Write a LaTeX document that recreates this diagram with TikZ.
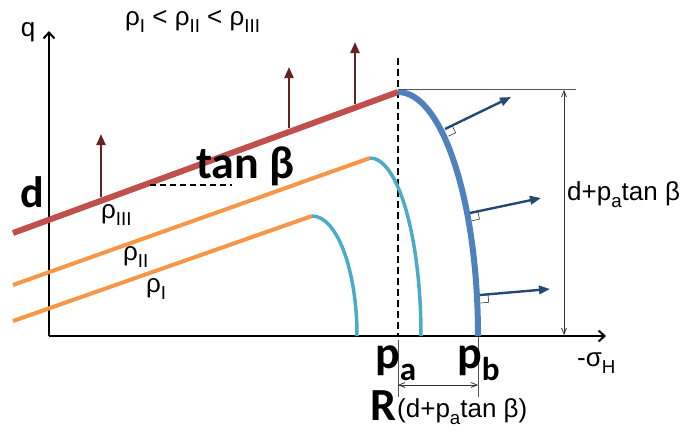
\documentclass[tikz,border=0pt]{standalone}
\usepackage{fontspec}
\setmainfont{Liberation Sans}
\newfontfamily\calb{Carlito}
\usetikzlibrary{arrows.meta}
\definecolor{redline}{HTML}{C0504D}
\definecolor{orangeline}{HTML}{F79646}
\definecolor{cyanline}{HTML}{4BACC6}
\definecolor{blueline}{HTML}{4F81BD}
\definecolor{darkred}{HTML}{632523}
\definecolor{navy}{HTML}{254A72}
\definecolor{dimgray}{HTML}{555555}
\newcommand{\sub}[1]{\raisebox{-0.28em}{\scalebox{0.72}{#1}}}
\tikzset{
  axisline/.style={line width=1.5pt,-{Straight Barb[length=6pt,width=11pt,line width=2pt]}},
  upforce/.style={darkred,line width=2.2pt,-{Triangle[length=11pt,width=9pt]}},
  normalarrow/.style={navy,line width=2.4pt,-{Triangle[length=11pt,width=8.5pt]}},
  dimline/.style={dimgray,line width=0.8pt},
  dimarrow/.style={black!80,line width=0.8pt,{Straight Barb[length=6pt,width=5pt]}-{Straight Barb[length=6pt,width=5pt]}},
  rightang/.style={black!80,line width=0.6pt},
  lbl/.style={inner sep=0pt,font=\fontsize{26}{28}\selectfont},
  boldlbl/.style={inner sep=0pt,font=\calb\bfseries\fontsize{46}{48}\selectfont},
}
\begin{document}
\begin{tikzpicture}[x=1pt,y=-1pt]
\useasboundingbox (0,0) rectangle (681,434);
% axes
\coordinate (O) at (49,336);
\coordinate (qtop) at (49,31);
\coordinate (xend) at (606,336);
\draw[axisline] (O) -- (qtop);
\draw[axisline] (O) -- (xend);
% dashed vertical
\coordinate (dtop) at (398,58);
\coordinate (pa) at (398,336);
\draw[black,line width=2pt,dash pattern=on 7pt off 4pt] (dtop) -- (pa);
% curves for rho I and II
\coordinate (l1s) at (13,321);
\coordinate (l1e) at (312,216);
\coordinate (l2s) at (13,285);
\coordinate (l2e) at (370,158);
\draw[orangeline,line width=4pt] (l1s) -- (l1e);
\draw[cyanline,line width=3.5pt] (l1e) arc[start angle=-90,end angle=0,x radius=45,y radius=120];
\draw[orangeline,line width=4pt] (l2s) -- (l2e);
\draw[cyanline,line width=3.5pt] (l2e) arc[start angle=-90,end angle=0,x radius=51,y radius=178];
% rho III
\coordinate (l3s) at (13,233);
\coordinate (l3e) at (398,92);
\draw[redline,line width=6pt] (l3s) -- (l3e);
\draw[blueline,line width=6pt] (l3e) arc[start angle=-90,end angle=0,x radius=80,y radius=244];
% upward force arrows
\coordinate (f1s) at (101,197); \coordinate (f1e) at (101,134);
\coordinate (f2s) at (289,128); \coordinate (f2e) at (289,67);
\coordinate (f3s) at (355,104); \coordinate (f3e) at (355,42);
\draw[upforce] (f1s) -- (f1e);
\draw[upforce] (f2s) -- (f2e);
\draw[upforce] (f3s) -- (f3e);
% normal arrows with right-angle marks
\coordinate (n1s) at (445,129); \coordinate (n1e) at (511,97);
\coordinate (n2s) at (470,213); \coordinate (n2e) at (541,198);
\coordinate (n3s) at (480,295); \coordinate (n3e) at (550,289);
\draw[normalarrow] (n1s) -- (n1e);
\draw[normalarrow] (n2s) -- (n2e);
\draw[normalarrow] (n3s) -- (n3e);
\draw[rightang] (452.2,125.6) -- (455.6,132.8) -- (448.4,136.2);
\draw[rightang] (477.8,211.3) -- (479.5,219.1) -- (471.7,220.8);
\draw[rightang] (488,294.3) -- (488.7,302.3) -- (480.7,303);
% tan beta dashed
\coordinate (tbs) at (150,185); \coordinate (tbe) at (232,185);
\draw[black,line width=1.5pt,dash pattern=on 6pt off 4pt] (tbs) -- (tbe);
% dimension: vertical
\coordinate (htop) at (398,89.5); \coordinate (hend) at (576,89.5);
\draw[dimline] (htop) -- (hend);
\coordinate (vtop) at (564,90); \coordinate (vbot) at (564,335);
\draw[dimarrow] (vtop) -- (vbot);
% dimension: horizontal R
\coordinate (pat) at (398,340); \coordinate (pab) at (398,397);
\coordinate (pbt) at (478,337); \coordinate (pbb) at (478,397);
\draw[dimline] (pat) -- (pab);
\draw[dimline] (pbt) -- (pbb);
\coordinate (ra) at (398,385); \coordinate (rb) at (478,385);
\draw[dimarrow] (ra) -- (rb);
% labels
\node[lbl,anchor=base] (qlbl) at (28,36) {q};
\node[lbl,anchor=base west] (title) at (125,25) {ρ\sub{I} < ρ\sub{II} < ρ\sub{III}};
\node[boldlbl,font=\calb\bfseries\fontsize{44}{46}\selectfont,anchor=base] (dlbl) at (32,207) {d};
\node[boldlbl,anchor=base west] (tanb) at (196,178) {tan β};
\node[lbl,anchor=base west] (r3) at (101,218) {ρ\sub{III}};
\node[lbl,anchor=base west] (r2) at (123,260) {ρ\sub{II}};
\node[lbl,anchor=base west] (r1) at (146,292) {ρ\sub{I}};
\node[boldlbl,anchor=base west] (palbl) at (375,368) {p\sub{a}};
\node[boldlbl,anchor=base west] (pblbl) at (457,368) {p\sub{b}};
\node[lbl,anchor=base west] (sig) at (577,366) {-σ\sub{H}};
\node[lbl,anchor=base west] (dim1) at (567,200) {d+p\sub{a}tan β};
\node[boldlbl,anchor=base west] (Rlbl) at (370,420) {R};
\node[lbl,anchor=base west] (dim2) at (397,417) {(d+p\sub{a}tan β)};
\end{tikzpicture}
\end{document}
